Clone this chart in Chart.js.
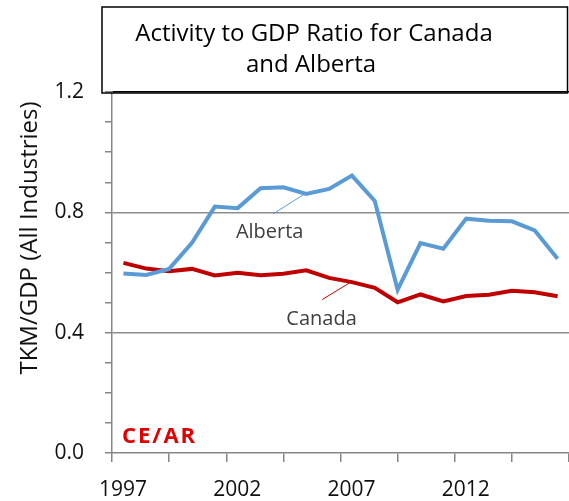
<!DOCTYPE html>
<html>
<head>
<meta charset="utf-8">
<script src="https://cdn.jsdelivr.net/npm/chart.js@4.4.1/dist/chart.umd.min.js"></script>
<style>
html, body { margin: 0; padding: 0; background: #fff; overflow: hidden; }
canvas { display: block; }
</style>
</head>
<body>
<canvas id="chart" width="569" height="501"></canvas>
<script>
// data
const years   = [1997, 1998, 1999, 2000, 2001, 2002, 2003, 2004, 2005, 2006, 2007, 2008, 2009, 2010, 2011, 2012, 2013, 2014, 2015, 2016];
const alberta = [0.597, 0.592, 0.612, 0.699, 0.819, 0.814, 0.880, 0.883, 0.861, 0.878, 0.922, 0.838, 0.543, 0.698, 0.679, 0.779, 0.772, 0.770, 0.740, 0.646];
const canada  = [0.632, 0.613, 0.604, 0.612, 0.590, 0.599, 0.591, 0.596, 0.607, 0.582, 0.568, 0.549, 0.501, 0.527, 0.504, 0.522, 0.526, 0.539, 0.534, 0.521];

const xTicks  = [1997, 1999.5, 2002, 2004.5, 2007, 2009.5, 2012, 2014.5, 2017];
const xLabels = [1997, 2002, 2007, 2012];
const yLabels = [0, 0.4, 0.8, 1.2];

const TITLE  = ['Activity to GDP Ratio for Canada', 'and Alberta'];
const YTITLE = 'TKM/GDP (All Industries)';
const FONT   = '"Open Sans", "Noto Sans", sans-serif';

// points sit in the middle of each year band
const toPts = vals => years.map((y, i) => ({ x: y + 0.5, y: vals[i] }));

// title box, y title, series labels with leader lines, logo
const extras = {
    id: 'extras',
    afterDraw(chart) {
        const { ctx, chartArea: a, scales: { x, y } } = chart;
        ctx.save();

        // title box
        ctx.strokeStyle = '#000';
        ctx.lineWidth = 1.5;
        ctx.strokeRect(102, 7, 465.5, a.top - 6);
        ctx.fillStyle = '#000';
        ctx.font = '24px ' + FONT;
        ctx.textAlign = 'center';
        ctx.textBaseline = 'middle';
        ctx.fillText(TITLE[0], 314, 34);
        ctx.fillText(TITLE[1], 311, 65);

        // y axis title
        ctx.save();
        ctx.translate(30, 238);
        ctx.rotate(-Math.PI / 2);
        ctx.fillStyle = '#111';
        ctx.font = '24px ' + FONT;
        ctx.fillText(YTITLE, 0, 0);
        ctx.restore();

        // leader lines
        ctx.lineWidth = 1;
        ctx.strokeStyle = '#5b9bd5';
        ctx.beginPath();
        ctx.moveTo(x.getPixelForValue(2004.05), y.getPixelForValue(0.795));
        ctx.lineTo(x.getPixelForValue(2005.45), y.getPixelForValue(0.862));
        ctx.stroke();
        ctx.strokeStyle = '#c00000';
        ctx.beginPath();
        ctx.moveTo(x.getPixelForValue(2006.2), y.getPixelForValue(0.51));
        ctx.lineTo(x.getPixelForValue(2007.45), y.getPixelForValue(0.568));
        ctx.stroke();

        ctx.fillStyle = '#404040';
        ctx.font = '20px ' + FONT;
        ctx.fillText('Alberta', x.getPixelForValue(2003.9), y.getPixelForValue(0.733));
        ctx.fillText('Canada', x.getPixelForValue(2006.17), y.getPixelForValue(0.443));

        // logo
        ctx.fillStyle = '#e00000';
        ctx.font = 'bold 22px ' + FONT;
        ctx.letterSpacing = '2px';
        ctx.textAlign = 'left';
        ctx.fillText('CE/AR', a.left + 10, a.bottom - 16);
        ctx.restore();
    }
};

new Chart(document.getElementById('chart'), {
    type: 'line',
    data: {
        datasets: [
            { label: 'Alberta', data: toPts(alberta), borderColor: '#5b9bd5', borderWidth: 4, pointRadius: 0, tension: 0 },
            { label: 'Canada',  data: toPts(canada),  borderColor: '#c00000', borderWidth: 4, pointRadius: 0, tension: 0 },
        ]
    },
    options: {
        responsive: false, animation: false, devicePixelRatio: 1,
        layout: { padding: { top: 92, right: 0, left: 0, bottom: 0 } },
        plugins: { legend: { display: false }, tooltip: { enabled: false } },
        scales: {
            x: {
                type: 'linear', min: 1997, max: 2017,
                afterBuildTicks: s => { s.ticks = xTicks.map(v => ({ value: v })); },
                afterFit: s => { s.height = 48; s.paddingLeft = 0; s.paddingRight = 0; },
                ticks: {
                    autoSkip: false, maxRotation: 0, padding: 15, labelOffset: 11, color: '#111',
                    font: { size: 21, family: FONT },
                    callback: v => xLabels.includes(v) ? String(v) : ''
                },
                grid: { drawOnChartArea: false, tickLength: 9, tickColor: '#868686', lineWidth: 1.5 },
                border: { color: '#868686', width: 1.5 }
            },
            y: {
                min: 0, max: 1.2,
                afterFit: s => { s.width = 112; s.paddingTop = 0; s.paddingBottom = 0; },
                ticks: {
                    stepSize: 0.1, autoSkip: false, padding: 21, color: '#111',
                    font: { size: 21, family: FONT },
                    callback: v => { const r = Math.round(v * 10) / 10; return yLabels.includes(r) ? r.toFixed(1) : ''; }
                },
                grid: {
                    color: c => {
                        const r = Math.round(c.tick.value * 10) / 10;
                        if (r === 1.2) return '#000';
                        return (r === 0.4 || r === 0.8) ? '#8c8c8c' : 'rgba(0,0,0,0)';
                    },
                    lineWidth: 1.5, tickLength: 7, tickColor: '#868686'
                },
                border: { color: '#868686', width: 1.5 }
            }
        }
    },
    plugins: [extras]
});
</script>
</body>
</html>
